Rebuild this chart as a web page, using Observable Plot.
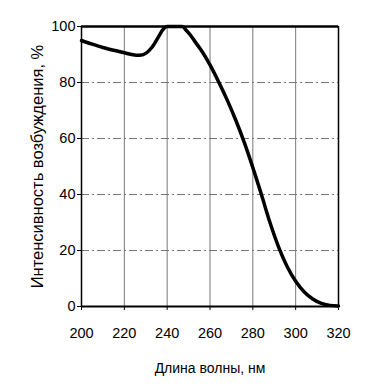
<!DOCTYPE html>
<html><head><meta charset="utf-8">
<script src="https://cdn.jsdelivr.net/npm/d3@7"></script>
<script src="https://cdn.jsdelivr.net/npm/@observablehq/plot@0.6"></script>
<style>body{margin:0;background:#fff}</style>
</head><body><div id="chart"></div>
<script>
const wavelength = [200,205,210,215,220,224,227,230,233,236,238,240,245,247,249,251,253,256,260,264,268,272,276,280,284,288,292,296,300,304,308,312,316,320];
const intensity  = [95,93.7,92.5,91.5,90.6,89.9,89.7,90.4,92.7,96.4,98.9,100,100,100,98.6,96.8,94.6,91.4,86.3,80.3,73.8,66.6,58.6,49.6,40,30,21.3,14.3,9,5.2,2.7,1.1,0.4,0.2];
const xTicks = [200,220,240,260,280,300,320];
const yTicks = [0,20,40,60,80,100];
const xLabel = "Длина волны, нм";
const yLabel = "Интенсивность возбуждения, %";

const data = wavelength.map((w,i)=>({w, v: intensity[i]}));
const font = "'Liberation Sans', Arial, sans-serif";

const chart = Plot.plot({
  width: 367, height: 389,
  marginLeft: 81, marginRight: 29, marginTop: 26, marginBottom: 83,
  style: {fontFamily: font, fontSize: "14.5px", color: "#000", background: "#fff"},
  x: {domain: [200,320], ticks: xTicks, label: null},
  y: {domain: [0,100], ticks: yTicks, label: null},
  marks: [
    Plot.ruleX(xTicks.slice(1,-1), {stroke: "#777", strokeWidth: 1}),
    Plot.ruleY(yTicks.slice(1,-1), {stroke: "#777", strokeWidth: 1.2, strokeDasharray: "8,3,2,3"}),
    Plot.ruleY([100], {stroke: "#000", strokeWidth: 2.5}),
    Plot.ruleY([0], {stroke: "#000", strokeWidth: 2}),
    Plot.ruleX([200], {stroke: "#000", strokeWidth: 1.5}),
    Plot.ruleX([320], {stroke: "#000", strokeWidth: 1.5}),
    Plot.axisX({ticks: xTicks, tickSize: 4, tickPadding: 17, fontSize: 14.5, label: null}),
    Plot.axisY({ticks: yTicks, tickSize: 4, tickPadding: 2, fontSize: 14.5, label: null}),
    Plot.line(data, {x: "w", y: "v", stroke: "#000", strokeWidth: 3.5, curve: "monotone-x"}),
    Plot.text([xLabel], {frameAnchor: "bottom", dy: 66, fontSize: 14, text: d => d}),
    Plot.text([yLabel], {frameAnchor: "left", textAnchor: "middle", dx: -44, rotate: -90, fontSize: 16.5, text: d => d})
  ]
});
document.getElementById("chart").append(chart);
</script>
</body></html>
